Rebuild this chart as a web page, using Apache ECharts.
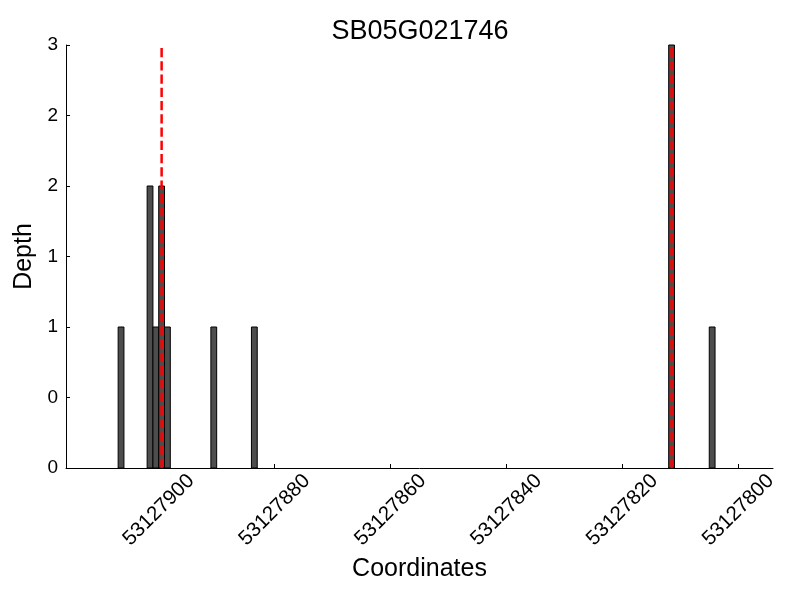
<!DOCTYPE html>
<html><head><meta charset="utf-8">
<script src="https://cdn.jsdelivr.net/npm/echarts@6/dist/echarts.min.js"></script>
<style>html,body{margin:0;padding:0;background:#fff}#c{width:800px;height:600px}</style>
</head><body><div id="c"></div>
<script>
const chartTitle = 'SB05G021746';
const binCenters = [53127906.5, 53127901.5, 53127900.5, 53127899.5, 53127898.5, 53127890.5, 53127883.5, 53127811.5, 53127804.5];
const depths = [1, 2, 1, 2, 1, 1, 1, 3, 1];
const markerPositions = [53127899.5, 53127811.5];
const xTicks = [53127900, 53127880, 53127860, 53127840, 53127820, 53127800];
const yTicks = [0, 0.5, 1, 1.5, 2, 2.5, 3];

const FONT = 'Liberation Sans';
const chart = echarts.init(document.getElementById('c'), null, {renderer: 'canvas'});

const barData = binCenters.map((c, i) => [c, depths[i]]);
const lineSeries = markerPositions.map(p => ({
  type: 'line',
  data: [[p, yTicks[0]], [p, yTicks[yTicks.length - 1]]],
  symbol: 'none',
  z: 5,
  lineStyle: {color: '#ff0000', width: 2.5, type: [9.25, 4]},
  silent: true,
  animation: false
}));

chart.setOption({
  animation: false,
  textStyle: {fontFamily: FONT},
  title: {
    text: chartTitle, left: 415, top: 13, textAlign: 'center',
    textStyle: {fontFamily: FONT, fontSize: 27, fontWeight: 'normal', color: '#000'}
  },
  grid: {left: 66, right: 27, top: 45, bottom: 132, containLabel: false},
  xAxis: {
    type: 'value', inverse: true, min: 53127794, max: 53127916,
    name: 'Coordinates', nameLocation: 'middle', nameGap: 86,
    nameTextStyle: {fontFamily: FONT, fontSize: 25, color: '#000'},
    axisLine: {show: true, onZero: false, lineStyle: {color: '#000', width: 1}},
    axisTick: {show: true, inside: true, length: 4, customValues: xTicks, lineStyle: {color: '#000'}},
    axisLabel: {
      customValues: xTicks, rotate: 45, align: 'center', verticalAlign: 'middle', margin: 42,
      fontFamily: FONT, fontSize: 20.5, color: '#000',
      formatter: v => String(Math.round(v))
    },
    splitLine: {show: false}
  },
  yAxis: {
    type: 'value', min: 0, max: 3, interval: 0.5,
    name: 'Depth', nameLocation: 'middle', nameGap: 27,
    nameTextStyle: {fontFamily: FONT, fontSize: 25, color: '#000'},
    axisLine: {show: true, lineStyle: {color: '#000', width: 1}},
    axisTick: {show: true, inside: true, length: 4, lineStyle: {color: '#000'}},
    axisLabel: {fontFamily: FONT, fontSize: 19, color: '#000', margin: 8, formatter: v => String(Math.floor(v))},
    splitLine: {show: false}
  },
  series: [{
    type: 'custom',
    data: barData,
    z: 2,
    renderItem: function (params, api) {
      const c = api.value(0), h = api.value(1);
      const p1 = api.coord([c - 0.5, h]);
      const p2 = api.coord([c + 0.5, 0]);
      const x = Math.min(p1[0], p2[0]), w = Math.abs(p2[0] - p1[0]);
      const y = Math.min(p1[1], p2[1]), hh = Math.abs(p2[1] - p1[1]);
      return {type: 'rect', shape: {x: x, y: y, width: w, height: hh},
        style: {fill: '#4d4d4d', stroke: '#000', lineWidth: 1}};
    }
  }].concat(lineSeries)
});
</script></body></html>
